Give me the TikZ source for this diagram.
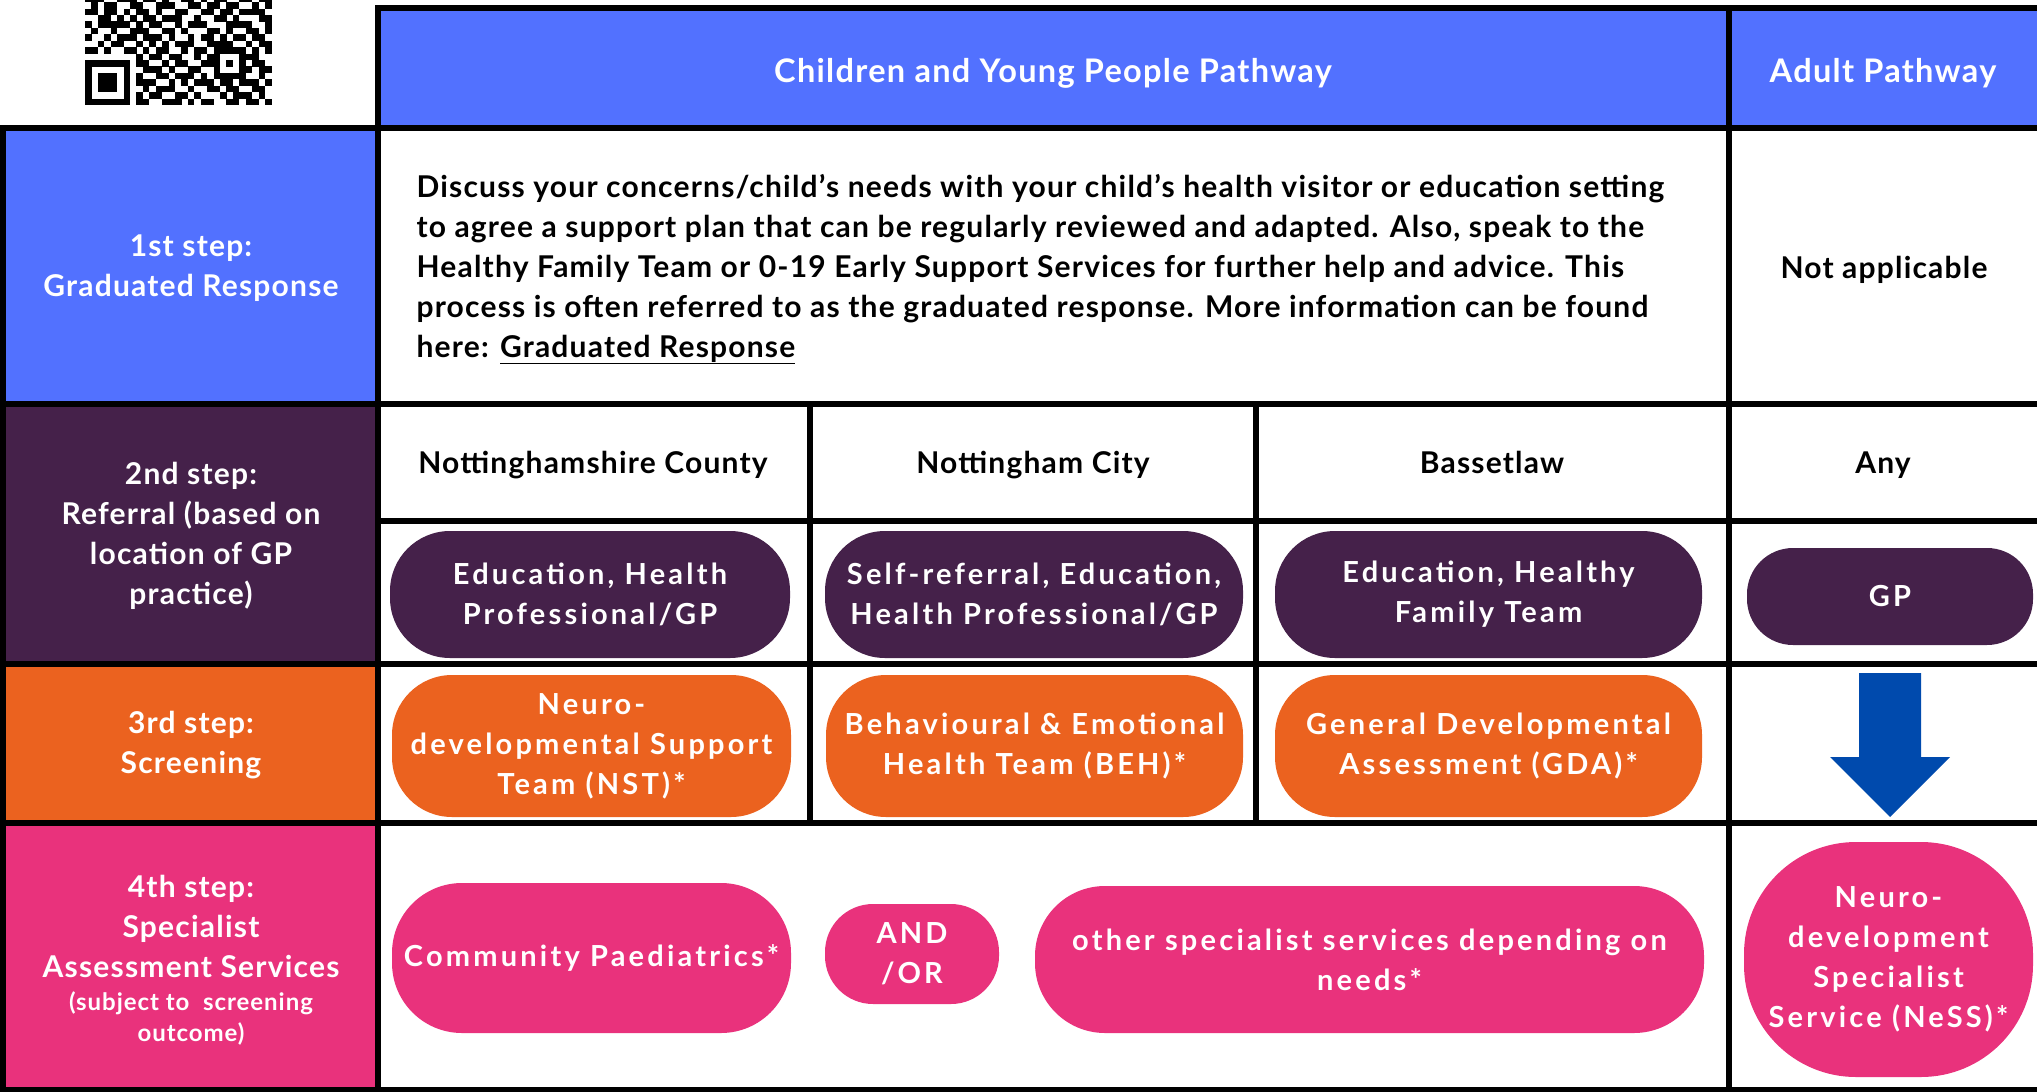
\documentclass[tikz,border=0pt]{standalone}
\usepackage{fontspec}
\setmainfont{Lato}[LetterSpace=4]
\newfontfamily\pillfont[LetterSpace=11]{Lato}
\usepackage{tikz}

\definecolor{stepblue}{HTML}{5271FF}
\definecolor{steppurple}{HTML}{45214A}
\definecolor{steporange}{HTML}{EB621F}
\definecolor{steppink}{HTML}{E9327C}
\definecolor{arrowblue}{HTML}{004AAD}

% qr code rows, one square per 1
\newcount\qrcol
\def\qrrow#1#2{\qrcol=0 \def\qry{#1}\expandafter\qrscan#2\relax}
\def\qrscan#1{\ifx#1\relax\else
  \ifnum#1=1 \fill ({85+6.43*\the\qrcol},{105-6.43*(29-\qry)}) rectangle ++(6.6,6.6);\fi
  \advance\qrcol by 1 \expandafter\qrscan\fi}

\begin{document}
\begin{tikzpicture}[x=1pt,y=-1pt,
    gridline/.style={line width=6pt},
    steptext/.style={text=white,align=center,font=\fontsize{30}{40}\selectfont\bfseries},
    bodytext/.style={align=center,font=\fontsize{30}{40}\selectfont\bfseries},
    oneline/.style={text height=22pt,text depth=7pt},
    pill/.style={fill=#1,rounded corners=60pt,text=white,align=center,inner sep=0pt,
      font=\pillfont\fontsize{29}{40}\selectfont\bfseries}]
    \useasboundingbox (0,0) rectangle (2037,1092);

    \foreach \rw/\bits in {12/11100111011010011010110011011,13/01011001100111001101101100101,
      14/11011010110100110011011011110,15/00110101011011100100110100011,
      16/10111110101100101110001111001,17/01001001110011010001101001101,
      18/10010111011101001011010110110,19/00101100101010111001111001011,
      20/11010011010110010110111110101,21/00000000101101100101100011100,
      22/11111110110010110011101010110,23/10000010011101001100100011011,
      24/10111010100110111010111110010,25/10111010111001010111011011101,
      26/10111010010111001001101100110,27/10000010101100110100010111010,
      28/11111110110011101011001101101}
      {\qrrow{\rw}{\bits}}

    \fill[stepblue] (378,7) rectangle (2037,127);
    \fill[stepblue] (0,127) rectangle (378,404);
    \fill[steppurple] (0,404) rectangle (378,664);
    \fill[steporange] (0,664) rectangle (378,823);
    \fill[steppink] (0,823) rectangle (378,1092);

    \draw[gridline] (378,1092) -- (378,7.5) -- (2037,7.5);
    \draw[gridline] (1728.5,7.5) -- (1728.5,1092);
    \draw[gridline] (3,1092) -- (3,127.5) -- (2037,127.5);
    \draw[gridline] (0,404) -- (2037,404);
    \draw[gridline] (378,521) -- (2037,521);
    \draw[gridline] (0,664) -- (2037,664);
    \draw[gridline] (0,823) -- (2037,823);
    \draw[gridline] (0,1089.5) -- (2037,1089.5);
    \draw[gridline] (809.5,404) -- (809.5,823);
    \draw[gridline] (1256,404) -- (1256,823);

    \node[steptext,oneline,font=\fontsize{32.5}{40}\selectfont\bfseries] (cyp) at (1053,75) {Children and Young People Pathway};
    \node[steptext,oneline,font=\fontsize{32.5}{40}\selectfont\bfseries] (adult) at (1883,75) {Adult Pathway};

    \node[steptext] (step1) at (191,268) {1st step:\\Graduated Response};
    \node[steptext] (step2) at (191,536) {2nd step:\\Referral (based on\\location of GP\\practice)};
    \node[steptext] (step3) at (191,745) {3rd step:\\Screening};
    \node[steptext] (step4) at (191,926) {4th step:\\Specialist\\Assessment Services};
    \node[steptext,font=\fontsize{24}{31}\selectfont\bfseries] (note4) at (191,1018) {(subject to~~screening\\outcome)};

    \node[bodytext,align=left,anchor=west] (graduated) at (413,269) {Discuss your concerns/child's needs with your child’s health visitor or education setting\\
      to agree a support plan that can be regularly reviewed and adapted. Also, speak to the\\
      Healthy Family Team or 0-19 Early Support Services for further help and advice. This\\
      process is often referred to as the graduated response. More information can be found\\
      here: \underline{Graduated Response}};
    \node[bodytext,oneline] (notapp) at (1884,271) {Not applicable};

    \node[bodytext,oneline] (county) at (593,466) {Nottinghamshire County};
    \node[bodytext,oneline] (city) at (1033,466) {Nottingham City};
    \node[bodytext,oneline] (bassetlaw) at (1492,466) {Bassetlaw};
    \node[bodytext,oneline] (any) at (1883,466) {Any};

    \node[pill=steppurple,minimum width=400pt,minimum height=127pt] (refcounty) at (590,594.5) {Education, Health\\Professional/GP};
    \node[pill=steppurple,minimum width=418pt,minimum height=127pt] (refcity) at (1034,594.5) {Self-referral, Education,\\Health Professional/GP};
    \node[pill=steppurple,minimum width=427pt,minimum height=127pt] (refbassetlaw) at (1488.5,594.5) {Education, Healthy\\Family Team};
    \node[pill=steppurple,minimum width=286pt,minimum height=97pt,rounded corners=46pt] (refgp) at (1890,596.5) {GP};

    \node[pill=steporange,minimum width=399pt,minimum height=142pt] (nst) at (591.5,746) {Neuro-\\developmental Support\\Team (NST)*};
    \node[pill=steporange,minimum width=417pt,minimum height=142pt] (beh) at (1034.5,746) {Behavioural \& Emotional\\Health Team (BEH)*};
    \node[pill=steporange,minimum width=427pt,minimum height=142pt] (gda) at (1488.5,746) {General Developmental\\Assessment (GDA)*};

    \fill[arrowblue] (1859,673) -- (1921,673) -- (1921,757) -- (1950,757) -- (1890,817) -- (1830,757) -- (1859,757) -- cycle;

    \node[pill=steppink,minimum width=399pt,minimum height=150pt,rounded corners=70pt] (paeds) at (591.5,958) {Community Paediatrics*};
    \node[pill=steppink,minimum width=174pt,minimum height=100pt,rounded corners=48pt] (andor) at (912,954) {AND\\/OR};
    \node[pill=steppink,minimum width=669pt,minimum height=147pt,rounded corners=70pt] (other) at (1369.5,959.5) {other specialist services depending on\\needs*};
    \node[pill=steppink,minimum width=289pt,minimum height=235pt,rounded corners=112pt] (ness) at (1888.5,959.5) {Neuro-\\development\\Specialist\\Service (NeSS)*};
\end{tikzpicture}
\end{document}
